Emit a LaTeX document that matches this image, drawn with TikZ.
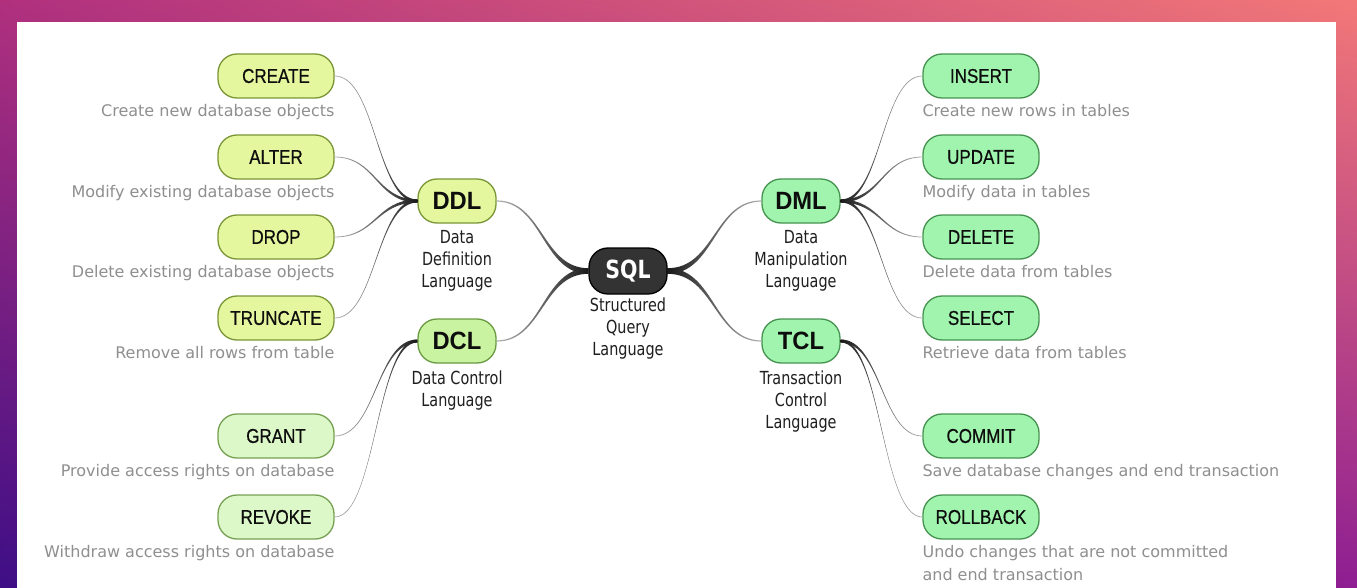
\documentclass[tikz,border=0pt]{standalone}
\usepackage{fontspec}
\setmainfont{DejaVu Sans}
\newfontfamily\leaffont{Liberation Sans}[FakeStretch=0.85, FakeBold=0.6]
\newfontfamily\hubfont{Liberation Sans}[FakeStretch=0.95]
\newfontfamily\labelfont{DejaVu Sans}[FakeStretch=0.8]
\newfontfamily\sqlfont{DejaVu Sans}[FakeStretch=0.82]
\usetikzlibrary{positioning, calc, shadings}

\definecolor{ddlfill}{HTML}{E4F79E}
\definecolor{ddldraw}{HTML}{7A9636}
\definecolor{dclfill}{HTML}{C9F3A0}
\definecolor{dcldraw}{HTML}{6A9A42}
\definecolor{grantfill}{HTML}{DCF7C8}
\definecolor{grantdraw}{HTML}{76A052}
\definecolor{dmlfill}{HTML}{A0F4AE}
\definecolor{dmldraw}{HTML}{469250}
\definecolor{sqlfill}{HTML}{333333}
\definecolor{bgul}{HTML}{B0307E}
\definecolor{bgur}{HTML}{F27878}
\definecolor{bgll}{HTML}{3E0E86}
\definecolor{bglr}{HTML}{8E1E92}

% tapered connector: thick end, thin end, half widths, shading
\newcommand\branch[5]{%
  \shade[#5] let \p1=(#1), \p2=(#2), \p3=($(#1)!0.5!(#2)$) in
    (\x1,\y1+#3) .. controls (\x3,\y1+#3) and (\x3,\y2+#4) .. (\x2,\y2+#4)
    -- (\x2,\y2-#4) .. controls (\x3,\y2-#4) and (\x3,\y1-#3) .. (\x1,\y1-#3) -- cycle;}

\begin{document}
\begin{tikzpicture}[x=1bp, y=-1bp,
  pill/.style={rectangle, rounded corners=19bp, draw, line width=1.3bp, minimum height=44bp, inner sep=0pt, text=black!95},
  leaf/.style={pill, minimum width=116bp, font=\leaffont\fontsize{20bp}{24bp}\selectfont},
  hub/.style={pill, minimum width=78bp, font=\hubfont\bfseries\fontsize{25bp}{28bp}\selectfont},
  desc/.style={font=\fontsize{16bp}{23bp}\selectfont, text=black!44, inner sep=0pt, align=left},
  sub/.style={font=\labelfont\fontsize{18bp}{22bp}\selectfont, text=black!88, align=center, inner sep=0pt},
  ddl/.style={fill=ddlfill, draw=ddldraw},
  dcl/.style={fill=dclfill, draw=dcldraw},
  grant/.style={fill=grantfill, draw=grantdraw},
  dml/.style={fill=dmlfill, draw=dmldraw},
  lbranch/.style={left color=black!30, right color=black!90},
  rbranch/.style={left color=black!90, right color=black!30}]
\useasboundingbox (0,0) rectangle (1357,588);
\shade[upper left=bgul, upper right=bgur, lower left=bgll, lower right=bglr]
  (0,0) rectangle (1357,588);
\fill[white] (17,22) rectangle (1336,588);

% Root
\node[pill, fill=sqlfill, draw=black, minimum width=78bp, minimum height=46bp, text=white,
  font=\sqlfont\bfseries\fontsize{25bp}{28bp}\selectfont] (sql) at (628,271) {SQL};
\node[sub, below=3bp of sql] (sqltxt) {Structured\\Query\\Language};

% Hubs
\node[hub, ddl] (ddl) at (457,201) {DDL};
\node[hub, dcl] (dcl) at (457,341) {DCL};
\node[hub, dml] (dml) at (801,201) {DML};
\node[hub, dml] (tcl) at (801,341) {TCL};
\node[sub, below=7bp of ddl] (ddltxt) {Data\\Definition\\Language};
\node[sub, below=7bp of dcl] (dcltxt) {Data Control\\Language};
\node[sub, below=7bp of dml] (dmltxt) {Data\\Manipulation\\Language};
\node[sub, below=7bp of tcl] (tcltxt) {Transaction\\Control\\Language};

% DDL leaves
\node[leaf, ddl] (create) at (276,76) {CREATE};
\node[leaf, ddl] (alter) at (276,157) {ALTER};
\node[leaf, ddl] (drop) at (276,237) {DROP};
\node[leaf, ddl] (truncate) at (276,318) {TRUNCATE};
\node[desc, below left=5bp and 0bp of create.south east] {Create new database objects};
\node[desc, below left=5bp and 0bp of alter.south east] {Modify existing database objects};
\node[desc, below left=5bp and 0bp of drop.south east] {Delete existing database objects};
\node[desc, below left=5bp and 0bp of truncate.south east] {Remove all rows from table};

% DCL leaves
\node[leaf, grant] (grant) at (276,436) {GRANT};
\node[leaf, grant] (revoke) at (276,517) {REVOKE};
\node[desc, below left=5bp and 0bp of grant.south east] {Provide access rights on database};
\node[desc, below left=5bp and 0bp of revoke.south east] {Withdraw access rights on database};

% DML leaves
\node[leaf, dml] (insert) at (981,76) {INSERT};
\node[leaf, dml] (update) at (981,157) {UPDATE};
\node[leaf, dml] (delete) at (981,237) {DELETE};
\node[leaf, dml] (select) at (981,318) {SELECT};
\node[desc, below right=5bp and 0bp of insert.south west] {Create new rows in tables};
\node[desc, below right=5bp and 0bp of update.south west] {Modify data in tables};
\node[desc, below right=5bp and 0bp of delete.south west] {Delete data from tables};
\node[desc, below right=5bp and 0bp of select.south west] {Retrieve data from tables};

% TCL leaves
\node[leaf, dml] (commit) at (981,436) {COMMIT};
\node[leaf, dml] (rollback) at (981,517) {ROLLBACK};
\node[desc, below right=5bp and 0bp of commit.south west] {Save database changes and end transaction};
\node[desc, below right=5bp and 0bp of rollback.south west] {Undo changes that are not committed\\and end transaction};

% Connectors
\foreach \leaf in {create, alter, drop, truncate}
  \branch{ddl.west}{\leaf.east}{1.5bp}{0.4bp}{lbranch};
\foreach \leaf in {grant, revoke}
  \branch{dcl.west}{\leaf.east}{1.5bp}{0.4bp}{lbranch};
\foreach \leaf in {insert, update, delete, select}
  \branch{dml.east}{\leaf.west}{1.5bp}{0.4bp}{rbranch};
\foreach \leaf in {commit, rollback}
  \branch{tcl.east}{\leaf.west}{1.5bp}{0.4bp}{rbranch};
\branch{sql.west}{ddl.east}{2.8bp}{0.6bp}{lbranch};
\branch{sql.west}{dcl.east}{2.8bp}{0.6bp}{lbranch};
\branch{sql.east}{dml.west}{2.8bp}{0.6bp}{rbranch};
\branch{sql.east}{tcl.west}{2.8bp}{0.6bp}{rbranch};
\end{tikzpicture}
\end{document}
